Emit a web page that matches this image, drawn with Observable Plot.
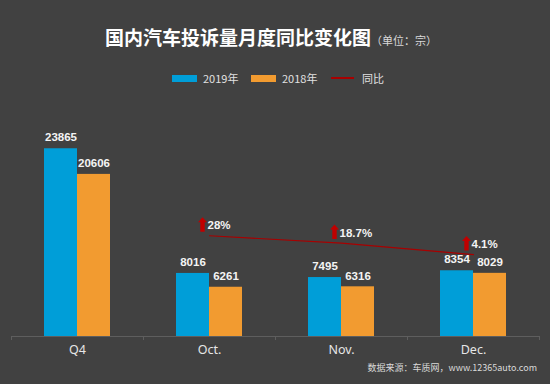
<!DOCTYPE html>
<html>
<head>
<meta charset="utf-8">
<script src="https://cdn.jsdelivr.net/npm/d3@7"></script>
<script src="https://cdn.jsdelivr.net/npm/@observablehq/plot@0.6"></script>
<style>
  html, body { margin: 0; padding: 0; }
  body { width: 550px; height: 384px; background: #414141; position: relative; overflow: hidden; font-family: "Noto Sans CJK SC", "Noto Sans", sans-serif; }
  #title { position: absolute; left: 105px; top: 27px; white-space: nowrap; line-height: 1; }
  #title .main { color: #ffffff; font-size: 19px; font-weight: 700; letter-spacing: 0px; }
  #title .unit { color: #d9d9d9; font-size: 11px; }
  #legend { position: absolute; top: 70px; left: 0; width: 550px; height: 16px; }
  .li { position: absolute; top: 0; height: 16px; display: flex; align-items: center; color: #e0e0e0; font-size: 11px; line-height: 1; }
  .sw { width: 25px; height: 7px; margin-right: 6px; }
  .ln { width: 23px; height: 1.5px; margin-right: 8px; }
  #chart { position: absolute; left: 0; top: 92px; }
  #source { position: absolute; right: 13px; top: 363px; font-size: 9px; color: #d9d9d9; white-space: nowrap; line-height: 1; }
</style>
</head>
<body>
<div id="title"><span class="main">国内汽车投诉量月度同比变化图</span><span class="unit">（单位：宗）</span></div>
<div id="legend"></div>
<div id="chart"></div>
<div id="source">数据来源：车质网，www.12365auto.com</div>
<script>
const categories = ["Q4", "Oct.", "Nov.", "Dec."];
const values2019 = [23865, 8016, 7495, 8354];
const values2018 = [20606, 6261, 6316, 8029];
const yoyValues = [null, 28, 18.7, 4.1];
const yoyLabels = ["", "28%", "18.7%", "4.1%"];
const seriesNames = ["2019年", "2018年", "同比"];

const blue = "#009ED8";
const orange = "#F29B30";
const red = "#A80000";

const rows = categories.map((c, i) => ({
  cat: c, v2019: values2019[i], v2018: values2018[i], yoy: yoyValues[i], yoyLabel: yoyLabels[i]
}));
const yoyRows = rows.filter(d => d.yoy != null);

// secondary axis (-100% .. 200%) mapped onto primary (0 .. 30000)
const ratioScale = d3.scaleLinear().domain([-100, 200]).range([0, 30000]);

// legend
const legend = document.getElementById("legend");
const legendItems = [
  {name: seriesNames[0], color: blue, kind: "sw", left: 172},
  {name: seriesNames[1], color: orange, kind: "sw", left: 251},
  {name: seriesNames[2], color: red, kind: "ln", left: 331}
];
for (const it of legendItems) {
  const d = document.createElement("div");
  d.className = "li";
  d.style.left = it.left + "px";
  const s = document.createElement("div");
  s.className = it.kind;
  s.style.background = it.color;
  d.appendChild(s);
  const t = document.createElement("span");
  t.textContent = it.name;
  d.appendChild(t);
  legend.appendChild(d);
}

const W = 550, H = 272, mL = 11, mR = 11, mT = 8, mB = 28;
const band = (W - mL - mR) / categories.length;
const half = band / 2, quarter = band / 4;

// upward arrow: tip at negative y (SVG y grows downward)
const arrowSymbol = {
  draw(ctx) {
    ctx.moveTo(0, -7.5);
    ctx.lineTo(4.5, -2.5);
    ctx.lineTo(2.2, -2.5);
    ctx.lineTo(2.2, 7);
    ctx.lineTo(-2.2, 7);
    ctx.lineTo(-2.2, -2.5);
    ctx.lineTo(-4.5, -2.5);
    ctx.closePath();
  }
};

const labelFont = "Liberation Sans, Arial, sans-serif";

const chart = Plot.plot({
  width: W,
  height: H,
  marginLeft: mL,
  marginRight: mR,
  marginTop: mT,
  marginBottom: mB,
  style: { background: "transparent", color: "#e6e6e6", fontSize: "12.5px", fontFamily: "Noto Sans, sans-serif" },
  x: { domain: categories, padding: 0, tickSize: 0, tickPadding: 9, label: null },
  y: { domain: [0, 30000], axis: null },
  marks: [
    Plot.barY(rows, { x: "cat", y: "v2019", fill: blue, insetLeft: quarter, insetRight: half }),
    Plot.barY(rows, { x: "cat", y: "v2018", fill: orange, insetLeft: half, insetRight: quarter }),
    Plot.ruleY([0], { stroke: "#5e5e5e", strokeWidth: 1 }),
    Plot.ruleX(categories, { x: d => d, y1: 0, y2: 0, insetBottom: -4, dx: -half, stroke: "#5e5e5e" }),
    Plot.ruleX(categories.slice(-1), { x: d => d, y1: 0, y2: 0, insetBottom: -4, dx: half, stroke: "#5e5e5e" }),
    Plot.text(rows, { x: "cat", y: "v2019", text: d => String(d.v2019), dx: -quarter / 2, dy: -11, fill: "#f4f4f4", fontWeight: "bold", fontSize: 11.5, fontFamily: labelFont }),
    Plot.text(rows, { x: "cat", y: "v2018", text: d => String(d.v2018), dx: quarter / 2, dy: -11, fill: "#f4f4f4", fontWeight: "bold", fontSize: 11.5, fontFamily: labelFont }),
    Plot.line(yoyRows, { x: "cat", y: d => ratioScale(d.yoy), stroke: red, strokeWidth: 1.1 }),
    Plot.dot(yoyRows, { x: "cat", y: d => ratioScale(d.yoy), symbol: arrowSymbol, fill: "#C00000", stroke: "none", dx: -7, dy: -11 }),
    Plot.text(yoyRows, { x: "cat", y: d => ratioScale(d.yoy), text: "yoyLabel", textAnchor: "start", dx: -2, dy: -10, fill: "#f4f4f4", fontWeight: "bold", fontSize: 11.5, fontFamily: labelFont })
  ]
});
document.getElementById("chart").appendChild(chart);
</script>
</body>
</html>
